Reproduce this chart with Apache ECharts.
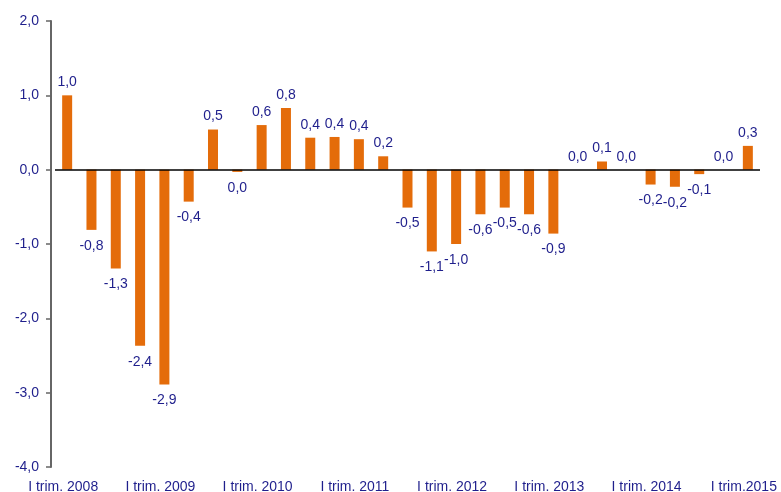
<!DOCTYPE html>
<html>
<head>
<meta charset="utf-8">
<script src="https://cdn.jsdelivr.net/npm/echarts@6/dist/echarts.min.js"></script>
<style>
  html, body { margin: 0; padding: 0; background: #fff; }
  #chart { width: 781px; height: 492px; }
</style>
</head>
<body>
<div id="chart"></div>
<script>
const QUARTERS = [
    "I trim. 2008", "II trim. 2008", "III trim. 2008", "IV trim. 2008",
    "I trim. 2009", "II trim. 2009", "III trim. 2009", "IV trim. 2009",
    "I trim. 2010", "II trim. 2010", "III trim. 2010", "IV trim. 2010",
    "I trim. 2011", "II trim. 2011", "III trim. 2011", "IV trim. 2011",
    "I trim. 2012", "II trim. 2012", "III trim. 2012", "IV trim. 2012",
    "I trim. 2013", "II trim. 2013", "III trim. 2013", "IV trim. 2013",
    "I trim. 2014", "II trim. 2014", "III trim. 2014", "IV trim. 2014",
    "I trim.2015"
];
const VALUES = [
    1.0, -0.81, -1.33, -2.37,
    -2.89, -0.43, 0.54, -0.03,
    0.60, 0.83, 0.43, 0.44,
    0.41, 0.18, -0.51, -1.10,
    -1.00, -0.60, -0.51, -0.60,
    -0.86, 0.0, 0.11, 0.0,
    -0.20, -0.23, -0.06, 0.0,
    0.32
];
const Y_MIN = -4;
const Y_MAX = 2;

const TEXT_COLOR = '#1f1f8c';
const BAR_COLOR = '#e46c0a';

function fmt(v) {
    if (Math.abs(v) < 0.05) return '0,0';
    return v.toFixed(1).replace('.', ',');
}

const chart = echarts.init(document.getElementById('chart'));

// negative bars get their label under the bar, a bit further away
const barData = VALUES.map(function (v) {
    return {
        value: v,
        label: v < 0 ? { position: 'bottom', distance: 9 } : { position: 'top', distance: 6 }
    };
});

chart.setOption({
    animation: false,
    backgroundColor: '#fff',
    grid: { left: 55, right: 21, top: 21, bottom: 25, outerBoundsMode: 'none' },
    xAxis: {
        type: 'category',
        data: QUARTERS,
        position: 'bottom',
        axisLine: { show: false, onZero: false },
        axisTick: { show: false },
        axisLabel: {
            interval: 3,
            margin: 13,
            padding: [0, 8, 0, 0],
            color: TEXT_COLOR,
            fontFamily: 'Liberation Sans, Arial, sans-serif',
            fontSize: 14
        }
    },
    yAxis: {
        type: 'value',
        min: Y_MIN,
        max: Y_MAX,
        interval: 1,
        offset: 4,
        axisLine: { show: true, lineStyle: { color: '#666', width: 2 } },
        axisTick: { show: true, length: 5, lineStyle: { color: '#666', width: 1.5 } },
        splitLine: { show: false },
        axisLabel: {
            margin: 12,
            color: TEXT_COLOR,
            fontFamily: 'Liberation Sans, Arial, sans-serif',
            fontSize: 14,
            formatter: function (v) { return v.toFixed(1).replace('.', ','); }
        }
    },
    series: [{
        type: 'bar',
        data: barData,
        barWidth: 10,
        itemStyle: { color: BAR_COLOR },
        label: {
            show: true,
            color: TEXT_COLOR,
            fontFamily: 'Liberation Sans, Arial, sans-serif',
            fontSize: 14,
            formatter: function (p) { return fmt(p.value); }
        },
        markLine: {
            silent: true,
            symbol: 'none',
            label: { show: false },
            lineStyle: { color: '#000', width: 1.5, type: 'solid' },
            data: [{ yAxis: 0 }]
        }
    }]
});
</script>
</body>
</html>
